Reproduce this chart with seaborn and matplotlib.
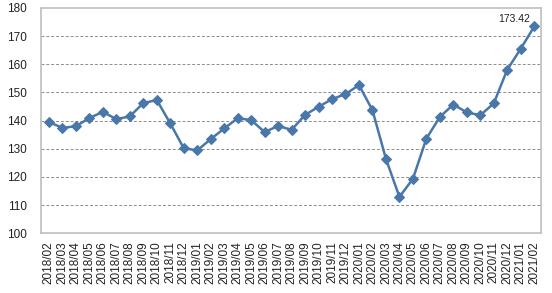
import matplotlib
matplotlib.use("Agg")
import matplotlib.pyplot as plt
import seaborn as sns
import pandas as pd

months = ["2018/02", "2018/03", "2018/04", "2018/05", "2018/06", "2018/07", "2018/08",
          "2018/09", "2018/10", "2018/11", "2018/12", "2019/01", "2019/02", "2019/03",
          "2019/04", "2019/05", "2019/06", "2019/07", "2019/08", "2019/09", "2019/10",
          "2019/11", "2019/12", "2020/01", "2020/02", "2020/03", "2020/04", "2020/05",
          "2020/06", "2020/07", "2020/08", "2020/09", "2020/10", "2020/11", "2020/12",
          "2021/01", "2021/02"]
values = [139.5, 137.4, 138.0, 140.9, 143.1, 140.5, 141.5, 146.2, 147.3, 139.0,
          130.2, 129.4, 133.4, 137.2, 140.8, 140.2, 135.9, 138.1, 136.7, 142.0,
          144.9, 147.6, 149.4, 152.6, 143.7, 126.4, 112.9, 119.3, 133.6, 141.3,
          145.7, 142.9, 141.9, 146.1, 158.1, 165.5, 173.42]
y_ticks = [100, 110, 120, 130, 140, 150, 160, 170, 180]

sns.set_style("white")
plt.rcParams['font.family'] = ['Liberation Sans', 'DejaVu Sans']

df = pd.DataFrame({"idx": range(len(months)), "value": values})

fig = plt.figure(figsize=(5.52, 2.93), dpi=100)
ax = fig.add_axes([0.074, 0.204, 0.906, 0.769])

sns.lineplot(data=df, x="idx", y="value", ax=ax, color="#4A77AA", linewidth=1.8,
             marker="D", markersize=5, markeredgecolor="#4A77AA", zorder=3)

ax.set_ylim(100, 180)
ax.set_yticks(y_ticks)
ax.set_yticklabels([str(t) for t in y_ticks], fontsize=8.5, color="#222222")
ax.set_xlim(-0.6, len(months) - 0.5)
ax.set_xticks(range(len(months)))
ax.set_xticklabels(months, rotation=90, fontsize=8.5, color="#222222")
ax.tick_params(axis="both", length=0, pad=6)
ax.tick_params(axis="y", pad=10)

for t in y_ticks[1:-1]:
    ax.axhline(t, color="#8C8C8C", linestyle=(0, (3, 2)), linewidth=0.7, zorder=1)

for s in ax.spines.values():
    s.set_color("#BFBFBF")
    s.set_linewidth(1.2)

ax.set_xlabel("")
ax.set_ylabel("")

last = len(values) - 1
ax.annotate(f"{values[last]:.2f}", xy=(last, values[last]), xytext=(-3, 1.5),
            textcoords="offset points", ha="right", va="bottom", fontsize=7.5, color="#222222")

fig.savefig("out.png", dpi=100)
